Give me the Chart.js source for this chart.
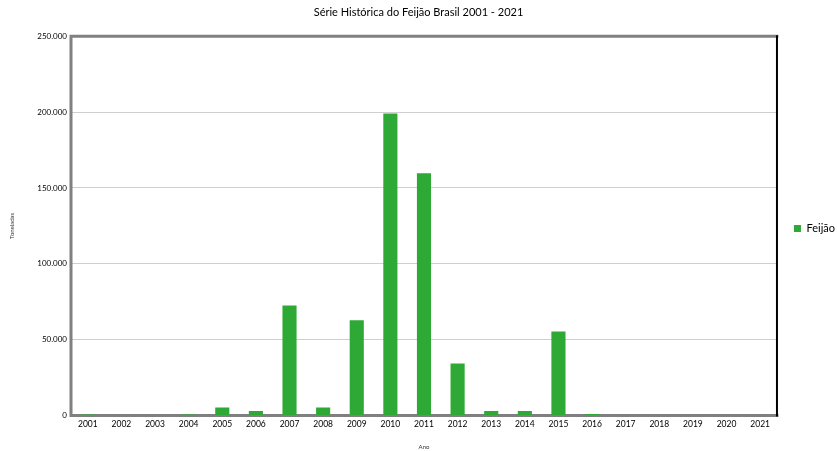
<!DOCTYPE html>
<html>
<head>
<meta charset="utf-8">
<script src="https://cdn.jsdelivr.net/npm/chart.js@4.4.1/dist/chart.umd.min.js"></script>
<style>
  html, body { margin: 0; padding: 0; background: #fff; }
  #wrap { width: 837px; height: 451px; }
</style>
</head>
<body>
<div id="wrap"><canvas id="chart" width="837" height="451"></canvas></div>
<script>
// Data (toneladas por ano)
const anos = ['2001', '2002', '2003', '2004', '2005', '2006', '2007', '2008', '2009', '2010', '2011',
              '2012', '2013', '2014', '2015', '2016', '2017', '2018', '2019', '2020', '2021'];
const feijao = [700, 0, 0, 700, 5300, 3000, 72500, 5300, 62800, 199000, 159700,
                34300, 3000, 3000, 55400, 1000, 0, 0, 0, 0, 0];
const yTicks = [0, 50000, 100000, 150000, 200000, 250000];

const FONT = 'Lato, "Open Sans", sans-serif';

// dots as thousand separators, like the original
function fmt(v) {
    return String(v).replace(/\B(?=(\d{3})+(?!\d))/g, '.');
}

// frame around the plot: grey on left/top/bottom, black on the right
const plotFrame = {
    id: 'plotFrame',
    afterLayout(chart) {
        // push the legend a bit further right, closer to the edge
        const lg = chart.legend;
        if (lg) { lg.left += 8; lg.right += 8; lg.top += 3; lg.bottom += 3; }
    },
    beforeDatasetsDraw(chart) {
        const a = chart.chartArea;
        const ctx = chart.ctx;
        ctx.save();
        ctx.lineCap = 'square';
        ctx.strokeStyle = '#808080';
        ctx.lineWidth = 3;
        ctx.beginPath();
        ctx.moveTo(a.right, a.top);
        ctx.lineTo(a.left, a.top);
        ctx.lineTo(a.left, a.bottom);
        ctx.lineTo(a.right, a.bottom);
        ctx.stroke();
        ctx.strokeStyle = '#000';
        ctx.lineWidth = 2;
        ctx.beginPath();
        ctx.moveTo(a.right, a.top);
        ctx.lineTo(a.right, a.bottom);
        ctx.stroke();
        ctx.restore();
    }
};

new Chart(document.getElementById('chart').getContext('2d'), {
    type: 'bar',
    data: {
        labels: anos,
        datasets: [{
            label: 'Feijão',
            data: feijao,
            backgroundColor: '#2EA935',
            borderWidth: 0,
            barPercentage: 0.42,
            categoryPercentage: 1.0
        }]
    },
    options: {
        responsive: false,
        animation: false,
        layout: { padding: { top: 0, right: 0, bottom: 0, left: 0 } },
        plugins: {
            title: {
                display: true,
                text: 'Série Histórica do Feijão Brasil 2001 - 2021',
                color: '#000',
                font: { family: FONT, size: 11, weight: 'normal' },
                padding: { top: 6, bottom: 17 }
            },
            legend: {
                position: 'right',
                labels: {
                    color: '#000',
                    font: { family: FONT, size: 11 },
                    boxWidth: 7,
                    boxHeight: 7,
                    padding: 9
                }
            },
            tooltip: { enabled: false }
        },
        scales: {
            x: {
                grid: { display: false, drawTicks: false },
                border: { display: false },
                ticks: {
                    color: '#000',
                    font: { family: FONT, size: 8.5 },
                    maxRotation: 0,
                    autoSkip: false,
                    padding: 4
                },
                title: {
                    display: true,
                    text: 'Ano',
                    color: '#333',
                    font: { family: FONT, size: 6 },
                    padding: { top: 10, bottom: 0 }
                }
            },
            y: {
                min: 0,
                max: 250000,
                afterBuildTicks(scale) {
                    scale.ticks = yTicks.map(v => ({ value: v }));
                },
                afterFit(scale) {
                    scale.width = 71;
                },
                grid: {
                    color: '#cfcfcf',
                    lineWidth: 1,
                    drawTicks: false
                },
                border: { display: false },
                ticks: {
                    color: '#000',
                    font: { family: FONT, size: 8 },
                    padding: 4,
                    callback: v => fmt(v)
                },
                title: {
                    display: true,
                    text: 'Toneladas',
                    color: '#333',
                    font: { family: FONT, size: 6 },
                    padding: { top: 8, bottom: 0 }
                }
            }
        }
    },
    plugins: [plotFrame]
});
</script>
</body>
</html>
